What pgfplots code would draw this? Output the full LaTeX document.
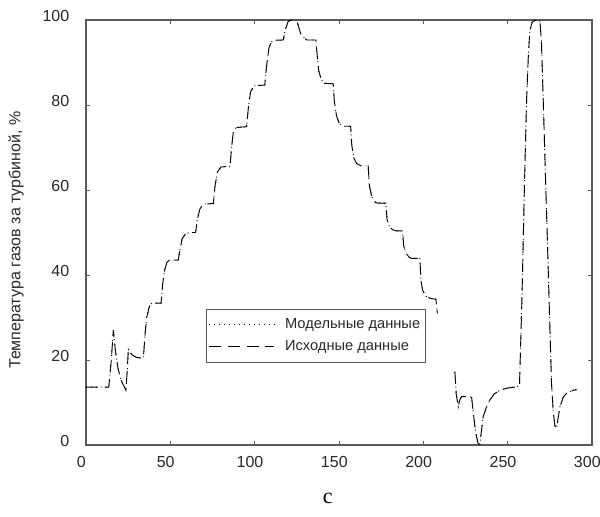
\documentclass[border=0pt]{standalone}
\usepackage{pgfplots}
\pgfplotsset{compat=1.18}
\usetikzlibrary{calc}
\usepackage{fontspec}
\setmainfont{Liberation Sans}
\newfontfamily\seriffont{Liberation Serif}
\definecolor{axgray}{RGB}{90,90,90}
\definecolor{txtgray}{RGB}{40,40,40}
\begin{document}
\begin{tikzpicture}
\pgfplotstableread{
x y
0 13.6
13.5 13.6
15 20
16.2 27
17.5 22
19 18
21 15
23.7 12.9
24.5 18
25.1 22.5
27 21.3
30 20.6
34 20.4
35 26
36 30
37.5 32.5
39 33.4
44.5 33.4
45.5 38
46.5 41
48 43
49.5 43.5
54.7 43.5
55.7 46
57 48.5
59 49.7
61.6 50
65 50
66 53
67.5 55.5
69 56.4
70.5 56.7
75.5 56.8
76.5 61
78 64.3
80 65.4
85.4 65.6
86.3 70
87.3 73.5
89 74.7
95.2 74.9
96.3 79.5
97.5 83
99.5 84.5
106 84.7
107 89
108.5 93.5
110.5 95.2
117 95.3
118 97.5
119.8 99.6
121 99.9
124.9 99.9
126 98.5
127.5 96.5
130.8 95.3
136.3 95.3
137 92
138 88
139.5 86
141 85.1
146.6 85
147.2 81
148.5 77.5
150 75.8
152 75
156.9 75
157.6 70.5
158.8 67.5
160.5 66.2
163 65.7
167.3 65.7
168 61
169.5 58.3
171.5 57.1
173 56.9
177.8 56.9
178.5 53
180 51.3
182 50.6
184 50.4
187.7 50.4
188.3 47
189.5 45.3
191.5 44.2
193 43.9
198 43.9
198.5 39
199.5 36.5
201.5 35
204 34.5
207.5 34.3
208.3 31
209 nan
218.7 17.2
219.5 12
220.7 9
221.5 10.5
222.7 11.4
228.6 11.3
229.5 8
231 3
232.5 0.3
233.5 0.2
235.5 6.7
237.5 9
239.5 10.6
242 12
245.4 12.9
250 13.4
255.3 13.7
257 14
258.5 35
260 62
261.2 81
262.3 92
263.2 97.6
264.5 99.5
266.2 99.9
269.1 99.9
270 95
271.1 81
272.5 62
274 42
275 28
276 14.5
277 8
278 4.5
279 4
280 6.5
281 9
283 11.3
285 12.2
289 12.9
291 13
}\datatable
\begin{axis}[
  name=ax,
  scale only axis,
  width=379.5pt, height=318.75pt,
  xmin=0, xmax=300, ymin=0, ymax=100,
  xtick={0,50,...,300}, ytick={0,20,...,100},
  tick align=inside,
  major tick length=3pt,
  axis line style={axgray, line width=0.8pt},
  tick style={axgray, line width=0.6pt},
  /pgf/number format/assume math mode=true,
  ticklabel style={font=\fontsize{12}{14}\selectfont, text=txtgray},
  yticklabel style={xshift=-9pt, yshift=3pt},
  xticklabel style={yshift=-5pt, xshift=-3.5pt},
  ylabel={Температура газов за турбиной, \%},
  ylabel style={font=\fontsize{12}{14}\selectfont, text=txtgray,
    at={(axis description cs:-0.138,0.482)}, anchor=center},
  unbounded coords=jump,
  legend style={at={(axis cs:71.1,32)}, anchor=north west,
    draw=axgray, line width=0.6pt, fill=white,
    font=\fontsize{11}{13}\selectfont, text=txtgray,
    row sep=3.5pt, inner xsep=2pt, inner ysep=5pt},
  legend cell align=left,
  legend image code/.code={\draw[#1] (0cm,0cm) -- (1.7cm,0cm);},
]
\addplot[black, line width=0.7pt, dash pattern=on 0.7pt off 3pt] table[x=x,y=y] {\datatable};
\addlegendentry{\hspace*{6pt}Модельные данные\hspace{15pt}}
\addplot[black, line width=0.7pt, dash pattern=on 9pt off 5pt] table[x=x,y=y] {\datatable};
\addlegendentry{\hspace*{6pt}Исходные данные}
\end{axis}
\node[font=\seriffont\fontsize{16.5}{18}\selectfont, text=black] at ($(ax.south west)!0.478!(ax.south east) + (0,-40pt)$) {c};
\pgfresetboundingbox
\path ($(ax.south west)+(-64.5pt,-54pt)$) rectangle ($(ax.north east)+(6pt,15pt)$);
\end{tikzpicture}
\end{document}
